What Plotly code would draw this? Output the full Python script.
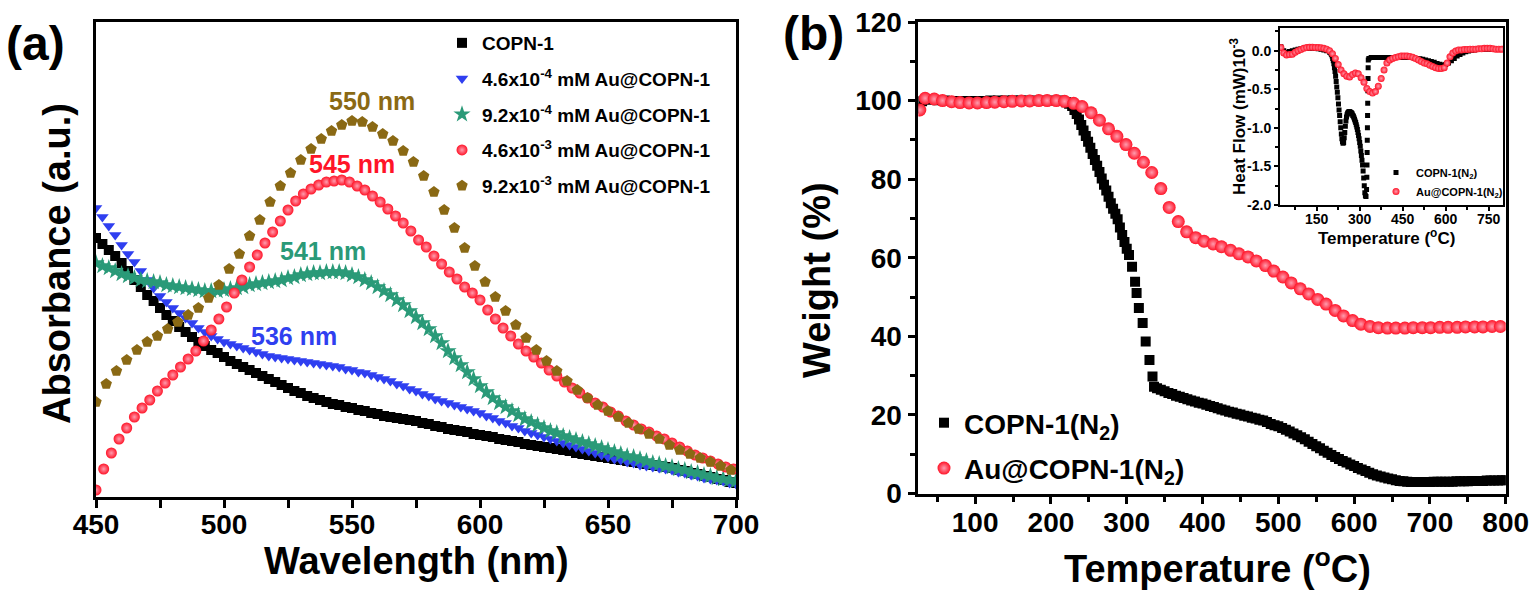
import plotly.graph_objects as go

FONT = "Liberation Sans, Arial, sans-serif"

# ---------------- Panel (a): UV-vis absorbance ----------------
wl_fine = [450 + 2.5 * i for i in range(101)]          # 2.5 nm sampling
wl_red = list(range(450, 700, 3))                       # 3 nm sampling
wl_brown = list(range(450, 700, 4))                     # 4 nm sampling

abs_copn = [259, 253, 247, 241, 234, 226, 217, 210, 202, 196, 189, 182, 176, 170, 165, 160, 155, 151,
            147, 144, 140, 136, 133, 130, 127, 124, 121, 118, 115, 112, 109, 106, 104, 101, 99, 97,
            95, 93, 92, 90, 89, 87, 86, 84, 83, 81, 80, 79, 78, 77, 76, 74, 73, 71, 70, 68, 67, 66,
            65, 63, 62, 61, 60, 58, 57, 56, 55, 53, 52, 51, 50, 49, 48, 47, 46, 44, 43, 42, 41, 40,
            39, 38, 37, 36, 35, 34, 33, 32, 31, 30, 29, 27, 26, 24, 23, 21, 20, 18, 17, 15, 14]
abs_46e4 = [289, 280, 271, 262, 252, 243, 235, 226, 217, 209, 201, 195, 189, 184, 179, 174, 169, 165,
            161, 158, 155, 153, 151, 149, 147, 145, 143, 141, 140, 139, 138, 137, 136, 135, 134, 133,
            132, 131, 130, 128, 127, 125, 124, 122, 120, 118, 116, 113, 111, 108, 106, 103, 101, 98,
            96, 94, 92, 90, 88, 86, 84, 81, 79, 76, 74, 71, 69, 66, 64, 62, 60, 58, 56, 54, 52, 50,
            48, 46, 44, 42, 40, 38, 37, 35, 34, 32, 31, 30, 29, 28, 27, 25, 24, 22, 21, 19, 18, 17,
            16, 14, 13]
abs_92e4 = [234, 231, 229, 226, 223, 221, 219, 217, 216, 215, 214, 212, 211, 210, 209, 208, 207, 206,
            206, 206, 207, 208, 209, 210, 212, 213, 214, 215, 216, 217, 219, 220, 222, 223, 224, 224,
            225, 225, 225, 224, 222, 220, 217, 214, 210, 206, 202, 197, 192, 186, 180, 174, 168, 161,
            154, 146, 139, 132, 125, 118, 111, 105, 99, 94, 90, 86, 82, 78, 75, 72, 69, 66, 64, 61,
            59, 57, 55, 53, 51, 49, 47, 45, 43, 41, 40, 38, 36, 34, 33, 31, 30, 28, 27, 25, 24, 22,
            21, 19, 18, 17, 16]
abs_46e3 = [7, 28, 44, 58, 69, 80, 89, 97, 106, 114,
            122, 130, 138, 146, 156, 167, 178, 190, 204, 217,
            230, 242, 254, 265, 276, 287, 296, 303, 308, 312,
            315, 316, 317, 315, 311, 307, 301, 295, 288, 281,
            274, 266, 257, 250, 241, 233, 225, 218, 210, 204,
            197, 187, 178, 169, 161, 153, 146, 140, 134, 127,
            121, 115, 109, 104, 99, 94, 90, 85, 81, 76,
            72, 68, 65, 61, 58, 54, 50, 46, 42, 39,
            36, 33, 30, 28]
abs_92e3 = [95, 113, 126, 137, 147, 155, 161, 168, 175, 182,
            189, 199, 212, 228, 243, 261, 277, 295, 311, 324,
            337, 348, 358, 366, 372, 376, 375, 370, 363, 356,
            346, 335, 321, 305, 287, 269, 249, 231, 215, 200,
            186, 172, 159, 147, 136, 126, 116, 107, 99, 92,
            86, 80, 74, 68, 63, 58, 52, 47, 43, 39,
            35, 31, 27]
series_a_names = ["COPN-1",
                  "4.6x10<sup>-4</sup> mM Au@COPN-1",
                  "9.2x10<sup>-4</sup> mM Au@COPN-1",
                  "4.6x10<sup>-3</sup> mM Au@COPN-1",
                  "9.2x10<sup>-3</sup> mM Au@COPN-1"]
peak_labels = ["536 nm", "541 nm", "545 nm", "550 nm"]
peak_label_x = [527.3, 538.7, 550.0, 557.8]
peak_label_y = [161, 246, 333, 396]

# ---------------- Panel (b): TGA ----------------
tga_t_copn = ([27, 30, 40, 50, 60, 70, 80, 90, 100, 110, 120, 130, 140, 150, 160, 170, 180, 190, 200, 210,
               216, 220, 224, 228, 231, 234, 237, 240, 243, 246, 249, 252, 255, 258, 261, 264, 267, 270,
               273, 276, 279, 282, 285, 288, 291, 294, 297, 300, 303, 307, 311, 313, 316, 321, 325, 330,
               334, 336] + list(range(340, 801, 5)))
tga_w_copn = [98.0, 99.8, 100.2, 100.1, 100.0, 99.9, 99.9, 99.9, 99.9, 99.9, 100.0, 100.0, 100.0, 100.0,
              100.0, 100.0, 100.0, 100.0, 100.0, 100.0,
              99.9, 99.6, 99.2, 98.6, 97.6, 96.6, 95.2, 93.8, 92.4, 91.0, 89.5, 88.0, 86.4, 84.9, 83.4,
              81.8, 80.2, 78.6, 77.1, 75.5, 73.9, 72.5, 71.2, 69.8, 67.7, 65.8, 64.0, 62.3, 60.7, 57.7,
              53.9, 51.0, 47.2, 43.4, 38.7, 34.0, 29.8, 27.2,
              26.8, 26.4, 26.0, 25.6, 25.3, 24.9, 24.6, 24.3, 24.0, 23.7,
              23.4, 23.1, 22.9, 22.6, 22.3, 22.0, 21.7, 21.4, 21.1, 20.8,
              20.6, 20.3, 20.1, 19.8, 19.6, 19.3, 19.1, 18.8, 18.6, 18.2,
              17.7, 17.4, 17.1, 16.7, 16.2, 15.8, 15.3, 14.8, 14.3, 13.8,
              13.2, 12.6, 12.0, 11.5, 10.9, 10.4, 9.8, 9.3, 8.8, 8.3,
              7.9, 7.4, 7.0, 6.5, 6.1, 5.7, 5.3, 4.9, 4.6, 4.3,
              4.1, 3.8, 3.6, 3.4, 3.2, 3.1, 3.0, 2.9, 2.9, 2.9,
              2.9, 2.9, 2.9, 3.0, 3.0, 3.0, 3.0, 3.0, 3.0, 3.1,
              3.1, 3.1, 3.1, 3.2, 3.2, 3.2, 3.2, 3.3, 3.3, 3.3,
              3.3, 3.4, 3.4]
tga_t_au = [27, 34, 46, 57, 69, 80, 92, 103, 115, 126, 138, 149, 161, 172, 184, 195, 207, 218, 230, 241,
            253, 264, 276, 287, 299, 310, 322, 333, 345, 356, 368, 379, 391, 402, 414, 425, 437, 448,
            460, 471, 483, 494, 506, 517, 529, 540, 552, 563, 575, 586, 598, 609, 621, 632, 644, 655,
            667, 678, 690, 701, 713, 724, 736, 747, 759, 770, 782, 793]
tga_w_au = [97.6, 100.6, 100.4, 100.0, 99.7, 99.5, 99.4, 99.4, 99.5, 99.6, 99.7, 99.8, 99.9, 99.9,
            100.0, 100.0, 100.0, 99.8, 99.3, 98.5, 96.9, 95.0, 92.8, 90.9, 88.8, 86.6, 84.3, 81.7,
            77.6, 72.8, 69.2, 66.6, 65.1, 64.2, 63.5, 62.8, 61.9, 61.0, 60.2, 59.2, 58.0, 56.6, 55.1,
            53.6, 52.1, 50.8, 49.4, 48.2, 46.6, 45.2, 44.0, 43.1, 42.5, 42.2, 42.1, 42.1, 42.1, 42.2,
            42.2, 42.2, 42.3, 42.3, 42.3, 42.4, 42.4, 42.4, 42.5, 42.5]

# ---------------- Inset: DSC heat flow ----------------
dsc_t_copn = [25, 35, 45, 55, 65, 75, 85, 95, 105, 115, 125, 135, 145, 155, 165, 175, 185, 195,
              200, 202, 204, 206, 208, 210, 212, 214, 216, 218, 220, 222, 224, 226, 228, 230, 232, 234,
              236, 238, 240, 242, 244, 246, 248, 250, 252, 254, 256, 258, 260, 262, 264, 266, 268, 270,
              272, 274, 276, 278, 280, 282, 284, 286, 288, 290, 292, 294, 296, 298, 300, 302, 304, 306,
              308, 310, 312, 314, 316, 318, 320, 322,
              324, 325, 325.5, 326, 326.5, 327, 327.5, 328, 328.5, 329, 329.5, 330,
              332, 340, 350, 360, 370, 380, 390, 400, 410, 420, 430, 440, 450, 460, 470, 480, 490, 500,
              510, 520, 530, 540, 550, 560, 570, 580, 590, 600, 610, 620, 630, 640, 650, 660, 670, 680,
              690, 700, 710, 720, 730, 740, 750, 760, 770, 780, 790, 800]
dsc_h_copn = [0.05, 0.0, -0.02, -0.01, 0.0, 0.01, 0.02, 0.025, 0.03, 0.03, 0.03, 0.03, 0.03, 0.025,
              0.02, 0.01, 0.0, -0.02,
              -0.04, -0.05, -0.07, -0.10, -0.13, -0.17, -0.22, -0.27, -0.33, -0.40, -0.47, -0.54, -0.61,
              -0.69, -0.77, -0.84, -0.92, -1.00, -1.08, -1.14, -1.18, -1.20, -1.19, -1.13, -1.06, -0.98,
              -0.91, -0.86, -0.83, -0.81, -0.80, -0.79, -0.79, -0.79, -0.80, -0.80, -0.81, -0.82, -0.84,
              -0.85, -0.87, -0.89, -0.91, -0.93, -0.96, -0.99, -1.02, -1.06, -1.10, -1.14, -1.19, -1.24,
              -1.30, -1.36, -1.42, -1.48, -1.56, -1.65, -1.75, -1.84, -1.88, -1.89,
              -1.80, -1.64, -1.48, -1.32, -1.16, -1.00, -0.84, -0.68, -0.52, -0.36, -0.22, -0.12,
              -0.10, -0.09, -0.09, -0.09, -0.09, -0.09, -0.09, -0.09, -0.09, -0.09, -0.09, -0.09, -0.09,
              -0.09, -0.09, -0.09, -0.095, -0.10, -0.105, -0.11, -0.12, -0.13, -0.14, -0.15, -0.165,
              -0.175, -0.185, -0.18, -0.16, -0.13, -0.10, -0.07, -0.05, -0.03, -0.015, -0.005, 0.005,
              0.01, 0.015, 0.015, 0.02, 0.02, 0.02, 0.02, 0.02, 0.02, 0.02, 0.02]
dsc_t_au = list(range(25, 800, 10))
dsc_h_au = [0.04, -0.03, -0.055, -0.05, -0.045, -0.02, 0.0, 0.015, 0.03, 0.04,
            0.043, 0.043, 0.042, 0.04, 0.037, 0.03, 0.02, 0.0, -0.04, -0.10,
            -0.18, -0.25, -0.30, -0.33, -0.34, -0.31, -0.29, -0.30, -0.35, -0.41,
            -0.49, -0.53, -0.55, -0.53, -0.46, -0.36, -0.25, -0.16, -0.12, -0.10,
            -0.09, -0.08, -0.07, -0.07, -0.07, -0.075, -0.085, -0.10, -0.12, -0.14,
            -0.16, -0.17, -0.19, -0.205, -0.22, -0.23, -0.23, -0.22, -0.16, -0.08,
            -0.03, -0.005, 0.01, 0.01, 0.015, 0.015, 0.02, 0.02, 0.02, 0.025,
            0.025, 0.03, 0.03, 0.03, 0.025, 0.02, 0.02, 0.02]

BLACK = "#000000"
BLUE = "#2f3ff0"
GREEN = "#2a9a78"
RED = "#ff1428"
BROWN = "#8a6914"
PINK = "#ff9cae"

fig = go.Figure()

styles_a = [
    (wl_fine, abs_copn, dict(symbol="square", size=10, color=BLACK)),
    (wl_fine, abs_46e4, dict(symbol="triangle-down", size=11, color=BLUE)),
    (wl_fine, abs_92e4, dict(symbol="star", size=13, color=GREEN)),
    (wl_red, abs_46e3, dict(symbol="circle", size=11, color=RED, gradient=dict(type="radial", color=PINK))),
    (wl_brown, abs_92e3, dict(symbol="pentagon", size=12, color=BROWN)),
]
for i, (xs, vals, mk) in enumerate(styles_a):
    mk = dict(mk)
    mk["line"] = dict(width=0)
    fig.add_trace(go.Scatter(x=xs, y=vals, mode="markers", name=series_a_names[i],
                             marker=mk, xaxis="x", yaxis="y", legend="legend",
                             legendgroup="a%d" % i))

fig.add_trace(go.Scatter(x=tga_t_copn, y=tga_w_copn, mode="markers", name="COPN-1(N<sub>2</sub>)",
                         marker=dict(symbol="square", size=10, color=BLACK, line=dict(width=0)),
                         xaxis="x2", yaxis="y2", legend="legend2", legendgroup="b0"))
fig.add_trace(go.Scatter(x=tga_t_au, y=tga_w_au, mode="markers", name="Au@COPN-1(N<sub>2</sub>)",
                         marker=dict(symbol="circle", size=13, color=RED, line=dict(width=0),
                                     gradient=dict(type="radial", color=PINK)),
                         xaxis="x2", yaxis="y2", legend="legend2", legendgroup="b1"))

fig.add_trace(go.Scatter(x=dsc_t_copn, y=dsc_h_copn, mode="markers", name="COPN-1(N<sub>2</sub>)",
                         marker=dict(symbol="square", size=5, color=BLACK, line=dict(width=0)),
                         xaxis="x3", yaxis="y3", legend="legend3", legendgroup="c0"))
fig.add_trace(go.Scatter(x=dsc_t_au, y=dsc_h_au, mode="markers", name="Au@COPN-1(N<sub>2</sub>)",
                         marker=dict(symbol="circle", size=7, color=RED, line=dict(width=0),
                                     gradient=dict(type="radial", color=PINK)),
                         xaxis="x3", yaxis="y3", legend="legend3", legendgroup="c1"))

W, H = 1535, 593


def px(xp):
    return xp / W


def py(yp):
    return 1 - yp / H


LW = 2.5
tickfont_big = dict(family=FONT, size=28, color="black", weight="bold")
common = dict(showgrid=False, zeroline=False, showline=True, linewidth=LW, linecolor="black",
              mirror=True, automargin=False)
small_tick = dict(family=FONT, size=14, color="black", weight="bold")

fig.update_layout(
    width=W, height=H, margin=dict(l=0, r=0, t=0, b=0, autoexpand=False),
    paper_bgcolor="white", plot_bgcolor="white",
    font=dict(family=FONT, color="black"),
    xaxis=dict(domain=[px(96), px(736)], range=[450, 700], anchor="y",
               tickmode="array", tickvals=[450, 500, 550, 600, 650, 700],
               ticks="outside", ticklen=8, tickwidth=LW, tickcolor="black",
               minor=dict(tickmode="array", tickvals=[475, 525, 575, 625, 675], ticks="outside",
                          ticklen=8, tickwidth=LW, tickcolor="black"),
               tickfont=tickfont_big, ticklabelstandoff=-7, **common),
    yaxis=dict(domain=[py(497), py(22)], range=[0, 475], anchor="x",
               showticklabels=False, ticks="", **common),
    xaxis2=dict(domain=[px(918.3), px(1505.7)], range=[25, 800], anchor="y2",
                tickmode="array", tickvals=[100, 200, 300, 400, 500, 600, 700, 800],
                ticks="outside", ticklen=8, tickwidth=LW, tickcolor="black",
                minor=dict(tickmode="array", tickvals=[50, 150, 250, 350, 450, 550, 650, 750],
                           ticks="outside", ticklen=6, tickwidth=LW, tickcolor="black"),
                tickfont=tickfont_big, ticklabelstandoff=-6, **common),
    yaxis2=dict(domain=[py(493.5), py(22)], range=[0, 120], anchor="x2",
                tickmode="array", tickvals=[0, 20, 40, 60, 80, 100, 120],
                ticks="outside", ticklen=8, tickwidth=LW, tickcolor="black",
                minor=dict(tickmode="array", tickvals=[10, 30, 50, 70, 90, 110],
                           ticks="outside", ticklen=6, tickwidth=LW, tickcolor="black"),
                tickfont=tickfont_big, **common),
    xaxis3=dict(domain=[px(1280), px(1503)], range=[22, 800], anchor="y3",
                tickmode="array", tickvals=[150, 300, 450, 600, 750],
                ticks="outside", ticklen=4, tickwidth=1.5, tickcolor="black",
                minor=dict(tickmode="array", tickvals=[75, 225, 375, 525, 675],
                           ticks="outside", ticklen=3, tickwidth=1.5, tickcolor="black"),
                tickfont=small_tick, ticklabelstandoff=-4,
                showgrid=False, zeroline=False, showline=True, linewidth=2, linecolor="black",
                mirror=True, automargin=False),
    yaxis3=dict(domain=[py(205), py(28.3)], range=[-2.0, 0.29], anchor="x3",
                tickmode="array", tickvals=[-2.0, -1.5, -1.0, -0.5, 0.0],
                ticktext=["-2.0", "-1.5", "-1.0", "-0.5", "0.0"],
                ticks="outside", ticklen=4, tickwidth=1.5, tickcolor="black",
                minor=dict(tickmode="array", tickvals=[-1.75, -1.25, -0.75, -0.25, 0.25],
                           ticks="outside", ticklen=3, tickwidth=1.5, tickcolor="black"),
                tickfont=small_tick,
                showgrid=False, zeroline=False, showline=True, linewidth=2, linecolor="black",
                mirror=True, automargin=False),
    legend=dict(x=px(442), y=py(24), xanchor="left", yanchor="top",
                font=dict(family=FONT, size=19, color="black", weight="bold"),
                bgcolor="rgba(0,0,0,0)", tracegroupgap=8, itemsizing="trace", itemwidth=30),
    legend2=dict(x=px(924), y=py(398), xanchor="left", yanchor="top",
                 font=dict(family=FONT, size=28, color="black", weight="bold"),
                 bgcolor="rgba(0,0,0,0)", tracegroupgap=6, itemsizing="trace", itemwidth=30),
    legend3=dict(x=px(1376), y=py(158), xanchor="left", yanchor="top",
                 font=dict(family=FONT, size=11, color="black", weight="bold"),
                 bgcolor="rgba(0,0,0,0)", tracegroupgap=0, itemsizing="trace", itemwidth=30),
    showlegend=True,
)

ann = []
peak_colors = [BLUE, GREEN, RED, BROWN]
for lab, xv, yv, c in zip(peak_labels, peak_label_x, peak_label_y, peak_colors):
    ann.append(dict(x=xv, y=yv, xref="x", yref="y", text=lab, showarrow=False,
                    font=dict(family=FONT, size=25, color=c, weight="bold")))


def txt(text, xp, yp, size, angle=0):
    return dict(x=px(xp), y=py(yp), xref="paper", yref="paper", text=text, showarrow=False,
                textangle=angle, xanchor="center", yanchor="middle",
                font=dict(family=FONT, size=size, color="black", weight="bold"))


ann += [
    txt("(a)", 35, 43, 48),
    txt("(b)", 813, 33, 48),
    txt("Wavelength (nm)", 416, 561, 38),
    txt("Absorbance (a.u.)", 57, 264, 38, -90),
    txt("Temperature (<sup>o</sup>C)", 1217, 566, 38),
    txt("Weight (%)", 817, 280, 38, -90),
    txt("Heat Flow (mW)10<sup>-3</sup>", 1238, 117, 17, -90),
    txt("Temperature (<sup>o</sup>C)", 1386, 237, 17),
]
fig.update_layout(annotations=ann)

fig.write_html("out.html", config={"displayModeBar": False},
               post_script="document.body.style.margin='0';")
